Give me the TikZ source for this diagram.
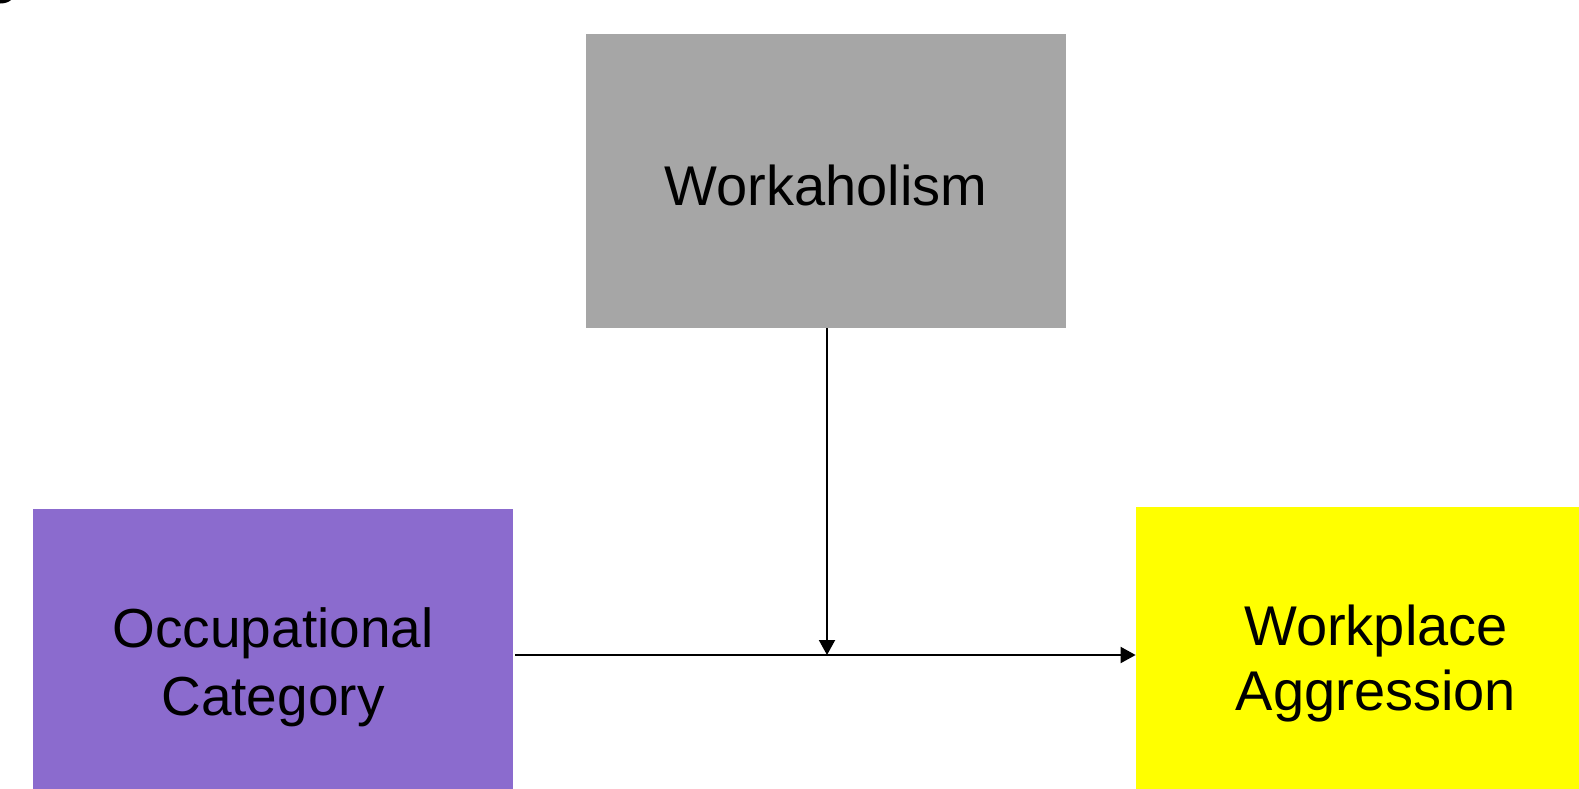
\documentclass[tikz,border=0pt]{standalone}
\usepackage{fontspec}
\setmainfont{Liberation Sans}
\usetikzlibrary{arrows.meta}
\definecolor{boxgray}{HTML}{A6A6A6}
\definecolor{boxpurple}{HTML}{8B6BCE}
\definecolor{boxyellow}{HTML}{FFFF00}
\tikzset{
  varbox/.style={rectangle, draw=none, inner sep=0pt, align=center, text=black,
    font=\fontsize{28}{32.5}\selectfont, minimum width=240pt},
  link/.style={line width=1pt, -{Triangle[length=7.5pt,width=8pt]}},
}
\begin{document}
\begin{tikzpicture}[x=0.5pt,y=-0.5pt]
\useasboundingbox (0,0) rectangle (1579,788);
\clip (0,0) rectangle (1579,788);
\fill[white] (0,0) rectangle (1579,788);
\fill[black] (0,0) -- (11,0) .. controls (9,2) and (5,3.5) .. (0,3.5) -- cycle;
\node[varbox, fill=boxgray, minimum height=147pt, text height=24pt, text depth=0pt] (work) at (826,181) {Workaholism};
\node[varbox, fill=boxpurple, minimum height=158pt, font=\fontsize{27.5}{34}\selectfont] (occ) at (273,667) {Occupational\\Category};
\node[varbox, fill=boxyellow, minimum height=156.5pt] (agg) at (1376,663.5) {Workplace\\Aggression};
\coordinate (meet) at (827,655);
\coordinate (occout) at (515,655);
\draw[link] (work.south -| meet) -- (meet);
\draw[link] (occout) -- (agg.west |- meet);
\end{tikzpicture}
\end{document}
